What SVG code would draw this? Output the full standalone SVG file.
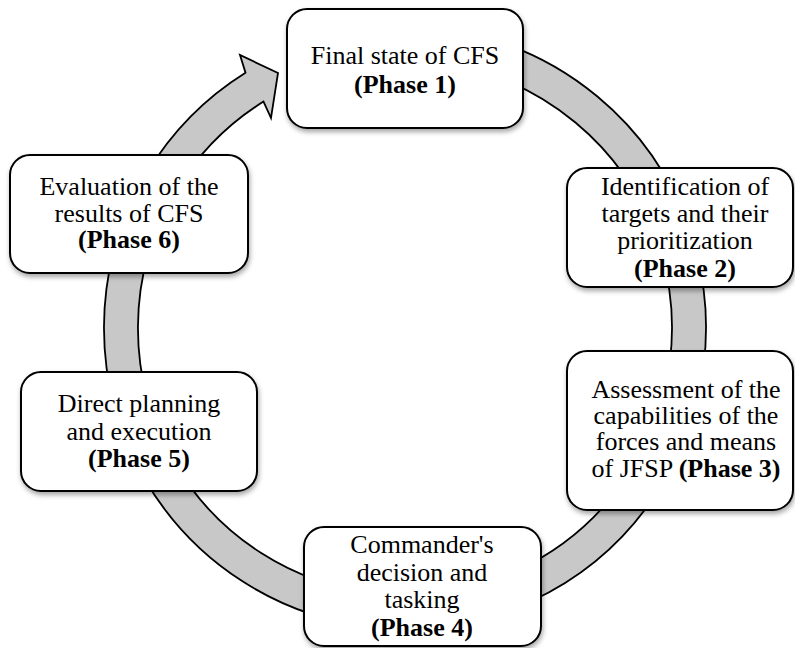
<svg xmlns="http://www.w3.org/2000/svg" width="795" height="648" viewBox="0 0 795 648">
<defs>
<filter id="sh" x="-10%" y="-10%" width="120%" height="130%">
<feDropShadow dx="1" dy="3" stdDeviation="2.5" flood-color="#000" flood-opacity="0.35"/>
</filter>
</defs>
<style>
.box{fill:#fff;stroke:#000;stroke-width:2;filter:url(#sh)}
.t{font-family:"Liberation Serif","Times New Roman",serif;font-size:26px;fill:#000;text-anchor:middle}
.b{font-weight:bold}
.ring{fill:#c8c8c8;stroke:#000;stroke-width:1.8;stroke-linejoin:miter}
</style>
<rect width="795" height="648" fill="#fff"/>
<g id="connectors">
<path class="ring" d="M312,41.7 A301,301 0 1 1 245.5,72.7 L240,55 L278,73 L271,118 L263.5,101.6 A267,267 0 1 0 322.5,74.1 Z"/>
</g>
<g id="phase1">
<rect class="box" x="287" y="9" width="236" height="119" rx="20"/>
<text class="t" x="405" y="64">Final state of CFS</text>
<text class="t b" x="405" y="93">(Phase 1)</text>
</g>
<g id="phase2">
<rect class="box" x="567" y="168" width="226" height="119" rx="20"/>
<text class="t" x="685" y="195">Identification of</text>
<text class="t" x="685" y="222">targets and their</text>
<text class="t" x="685" y="249">prioritization</text>
<text class="t b" x="685" y="277">(Phase 2)</text>
</g>
<g id="phase3">
<rect class="box" x="567" y="351" width="226" height="159" rx="20"/>
<text class="t" x="686" y="398">Assessment of the</text>
<text class="t" x="686" y="424">capabilities of the</text>
<text class="t" x="686" y="450">forces and means</text>
<text class="t" x="686" y="477">of JFSP <tspan class="b">(Phase 3)</tspan></text>
</g>
<g id="phase4">
<rect class="box" x="304" y="527" width="237" height="119" rx="20"/>
<text class="t" x="422" y="553">Commander's</text>
<text class="t" x="422" y="581">decision and</text>
<text class="t" x="422" y="608">tasking</text>
<text class="t b" x="422" y="636">(Phase 4)</text>
</g>
<g id="phase5">
<rect class="box" x="21" y="372" width="236" height="119" rx="20"/>
<text class="t" x="139" y="412">Direct planning</text>
<text class="t" x="139" y="440">and execution</text>
<text class="t b" x="139" y="467">(Phase 5)</text>
</g>
<g id="phase6">
<rect class="box" x="10" y="155" width="238" height="118" rx="20"/>
<text class="t" x="129" y="195">Evaluation of the</text>
<text class="t" x="129" y="222">results of CFS</text>
<text class="t b" x="129" y="248">(Phase 6)</text>
</g>
</svg>
